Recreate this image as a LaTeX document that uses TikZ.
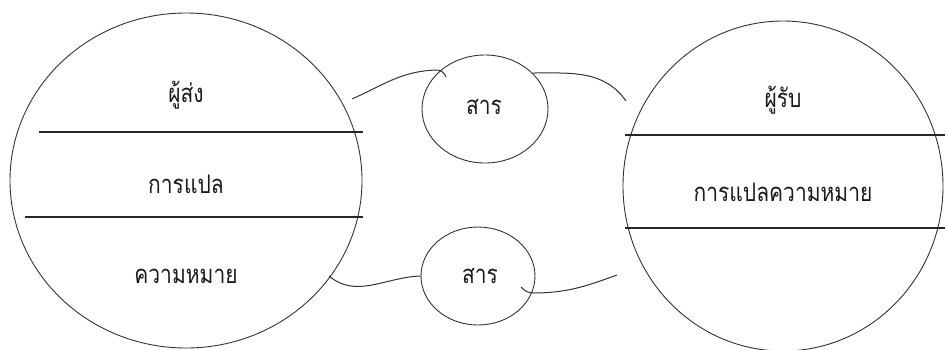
\documentclass[tikz,border=0pt]{standalone}
\usepackage{fontspec}
\newfontfamily\thaifont[Script=Thai]{Loma}
\usetikzlibrary{shapes.geometric}
\newcommand{\tallword}[1]{\scalebox{1}[1.22]{#1}}
\begin{document}
\begin{tikzpicture}[x=1pt,y=-1pt,
  disc/.style={ellipse, draw=black!80, line width=0.9pt, inner sep=0pt},
  divider/.style={draw=black!85, line width=1.1pt},
  link/.style={draw=black!80, line width=1pt},
  word/.style={font=\thaifont\fontsize{21}{24}\selectfont, text=black!90, inner sep=0pt, anchor=base}]
\useasboundingbox (0,0) rectangle (948,349);
% the two large discs run off the lower and right edges
\begin{scope}
  \clip (0,0) rectangle (948,349);
  \node[disc, minimum width=352pt, minimum height=335pt] (sender) at (186,180.5) {};
  \node[disc, minimum width=320pt, minimum height=330pt] (receiver) at (783,186) {};
\end{scope}
% message bubbles
\node[disc, minimum width=126pt, minimum height=108pt] (msgtop) at (485,109) {};
\node[disc, minimum width=114pt, minimum height=98pt] (msgbot) at (478,276) {};

% dividers inside the sender disc
\draw[divider] (39,132) -- (363,132);
\draw[divider] (25,217) -- (363,217);
% dividers inside the receiver disc
\draw[divider] (625,135) -- (945,135);
\draw[divider] (625,228) -- (945,228);

% labels
\node[word] (s1) at (186,102) {\tallword{ผู้ส่ง}};
\node[word] (s2) at (186,193) {\tallword{การแปล}};
\node[word] (s3) at (186,283) {\tallword{ความหมาย}};
\node[word] (r1) at (783,107) {\tallword{ผู้รับ}};
\node[word] (r2) at (783,201) {\tallword{การแปลความหมาย}};
\node[word] (m1) at (484,114) {\tallword{สาร}};
\node[word] (m2) at (480,283) {\tallword{สาร}};

% connecting strokes
\coordinate (a1) at (352,99);
\coordinate (a2) at (446,77);
\draw[link] (a1) to[out=24,in=182] (436,70) to[out=2,in=110] (a2);
\coordinate (b1) at (533,73);
\coordinate (b2) at (626,101);
\draw[link] (b1) to[out=0,in=125] (b2);
\coordinate (c1) at (329,276);
\coordinate (c2) at (msgbot.west);
\draw[link] (c1) to[out=-40,in=182] (c2);
\coordinate (d1) at (521,287);
\coordinate (d2) at (617,275);
\draw[link] (d1) to[out=-45,in=180] (533,293) to[out=0,in=200] (d2);
\end{tikzpicture}
\end{document}
